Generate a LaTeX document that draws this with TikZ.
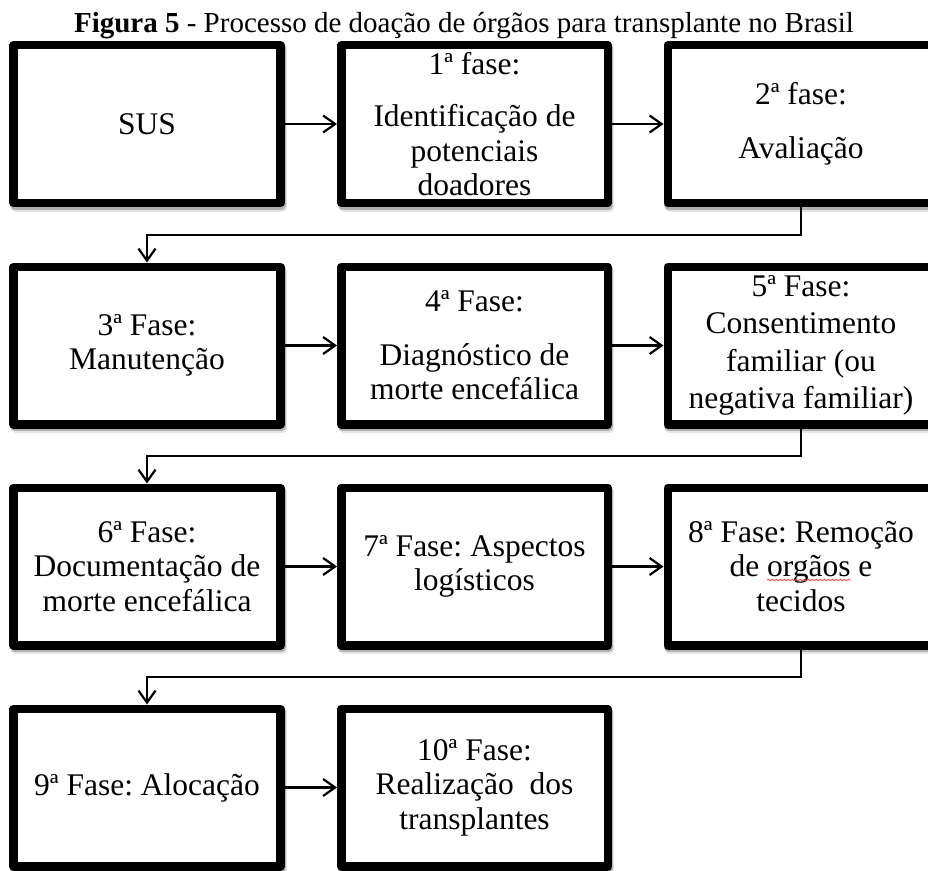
\documentclass[tikz,border=0pt]{standalone}
\usepackage{fontspec}
\setmainfont{Liberation Serif}
\usetikzlibrary{arrows.meta,calc,shadows,decorations.pathmorphing}
\frenchspacing

\begin{document}
\begin{tikzpicture}[x=1bp,y=-1bp,
  stepbox/.style={draw=black, line width=8.5bp, line join=round, fill=white,
    minimum width=266.5bp, minimum height=157.5bp, inner sep=0pt, align=center,
    font=\fontsize{31.5bp}{34.5bp}\selectfont,
    general shadow={shadow xshift=1bp, shadow yshift=-2.5bp, draw=black, opacity=.22, line width=9bp},
    general shadow={shadow xshift=2bp, shadow yshift=-4.5bp, draw=black, opacity=.10, line width=9bp}},
  conn/.style={line width=2.2bp, -{Straight Barb[length=12bp,width=17bp]}},
  squiggle/.style={draw=red!75, line width=0.8bp, decorate,
    decoration={snake, amplitude=0.8bp, segment length=4bp}}
]
\useasboundingbox (0,0) rectangle (928,871);
\fill[white] (0,0) rectangle (928,871);
\clip (0,0) rectangle (928,871);

% caption
\node[anchor=base, inner sep=0pt, font=\fontsize{29bp}{34bp}\selectfont] (title) at (464,32)
  {\textbf{Figura 5} - Processo de doação de órgãos para transplante no Brasil};

% row 1
\node[stepbox] (a1) at (147,124) {SUS};
\node[stepbox] (b1) at (474.5,124) {1ª fase:\\[18bp]Identificação de\\potenciais\\doadores};
\node[stepbox] (c1) at (801,124) {2ª fase:\\[20bp]Avaliação};

% row 2
\node[stepbox] (a2) at (147,345.5) {3ª Fase:\\Manutenção};
\node[stepbox] (b2) at (474.5,345.5) {4ª Fase:\\[19bp]Diagnóstico de\\morte encefálica};
\node[stepbox] (c2) at (801,345.5) {5ª Fase:\\[3bp]Consentimento\\[3bp]familiar (ou\\[3bp]negativa familiar)};

% row 3
\node[stepbox] (a3) at (147,566.5) {6ª Fase:\\Documentação de\\morte encefálica};
\node[stepbox] (b3) at (474.5,566.5) {7ª Fase: Aspectos\\logísticos};
\node[stepbox] (c3) at (801,566.5) {8ª Fase: Remoção\\de orgãos e\\tecidos};

% row 4
\node[stepbox] (a4) at (147,787.5) {9ª Fase: Alocação};
\node[stepbox] (b4) at (474.5,787.5) {10ª Fase:\\Realização\ \ dos\\transplantes};

% spell-check mark under "orgãos"
\coordinate (sqL) at ($(c3.center)+(-34,13.5)$);
\coordinate (sqR) at ($(c3.center)+(50,13.5)$);
\draw[squiggle] (sqL) -- (sqR);

% connectors within rows
\draw[conn] (a1.east) -- (b1.west);
\draw[conn] (b1.east) -- (c1.west);
\draw[conn] (a2.east) -- (b2.west);
\draw[conn] (b2.east) -- (c2.west);
\draw[conn] (a3.east) -- (b3.west);
\draw[conn] (b3.east) -- (c3.west);
\draw[conn] (a4.east) -- (b4.west);

% connectors between rows
\draw[conn] (c1.south) |- ($(c1.south)!.5!(a2.north)$) -| (a2.north);
\draw[conn] (c2.south) |- ($(c2.south)!.5!(a3.north)$) -| (a3.north);
\draw[conn] (c3.south) |- ($(c3.south)!.5!(a4.north)$) -| (a4.north);
\end{tikzpicture}
\end{document}
